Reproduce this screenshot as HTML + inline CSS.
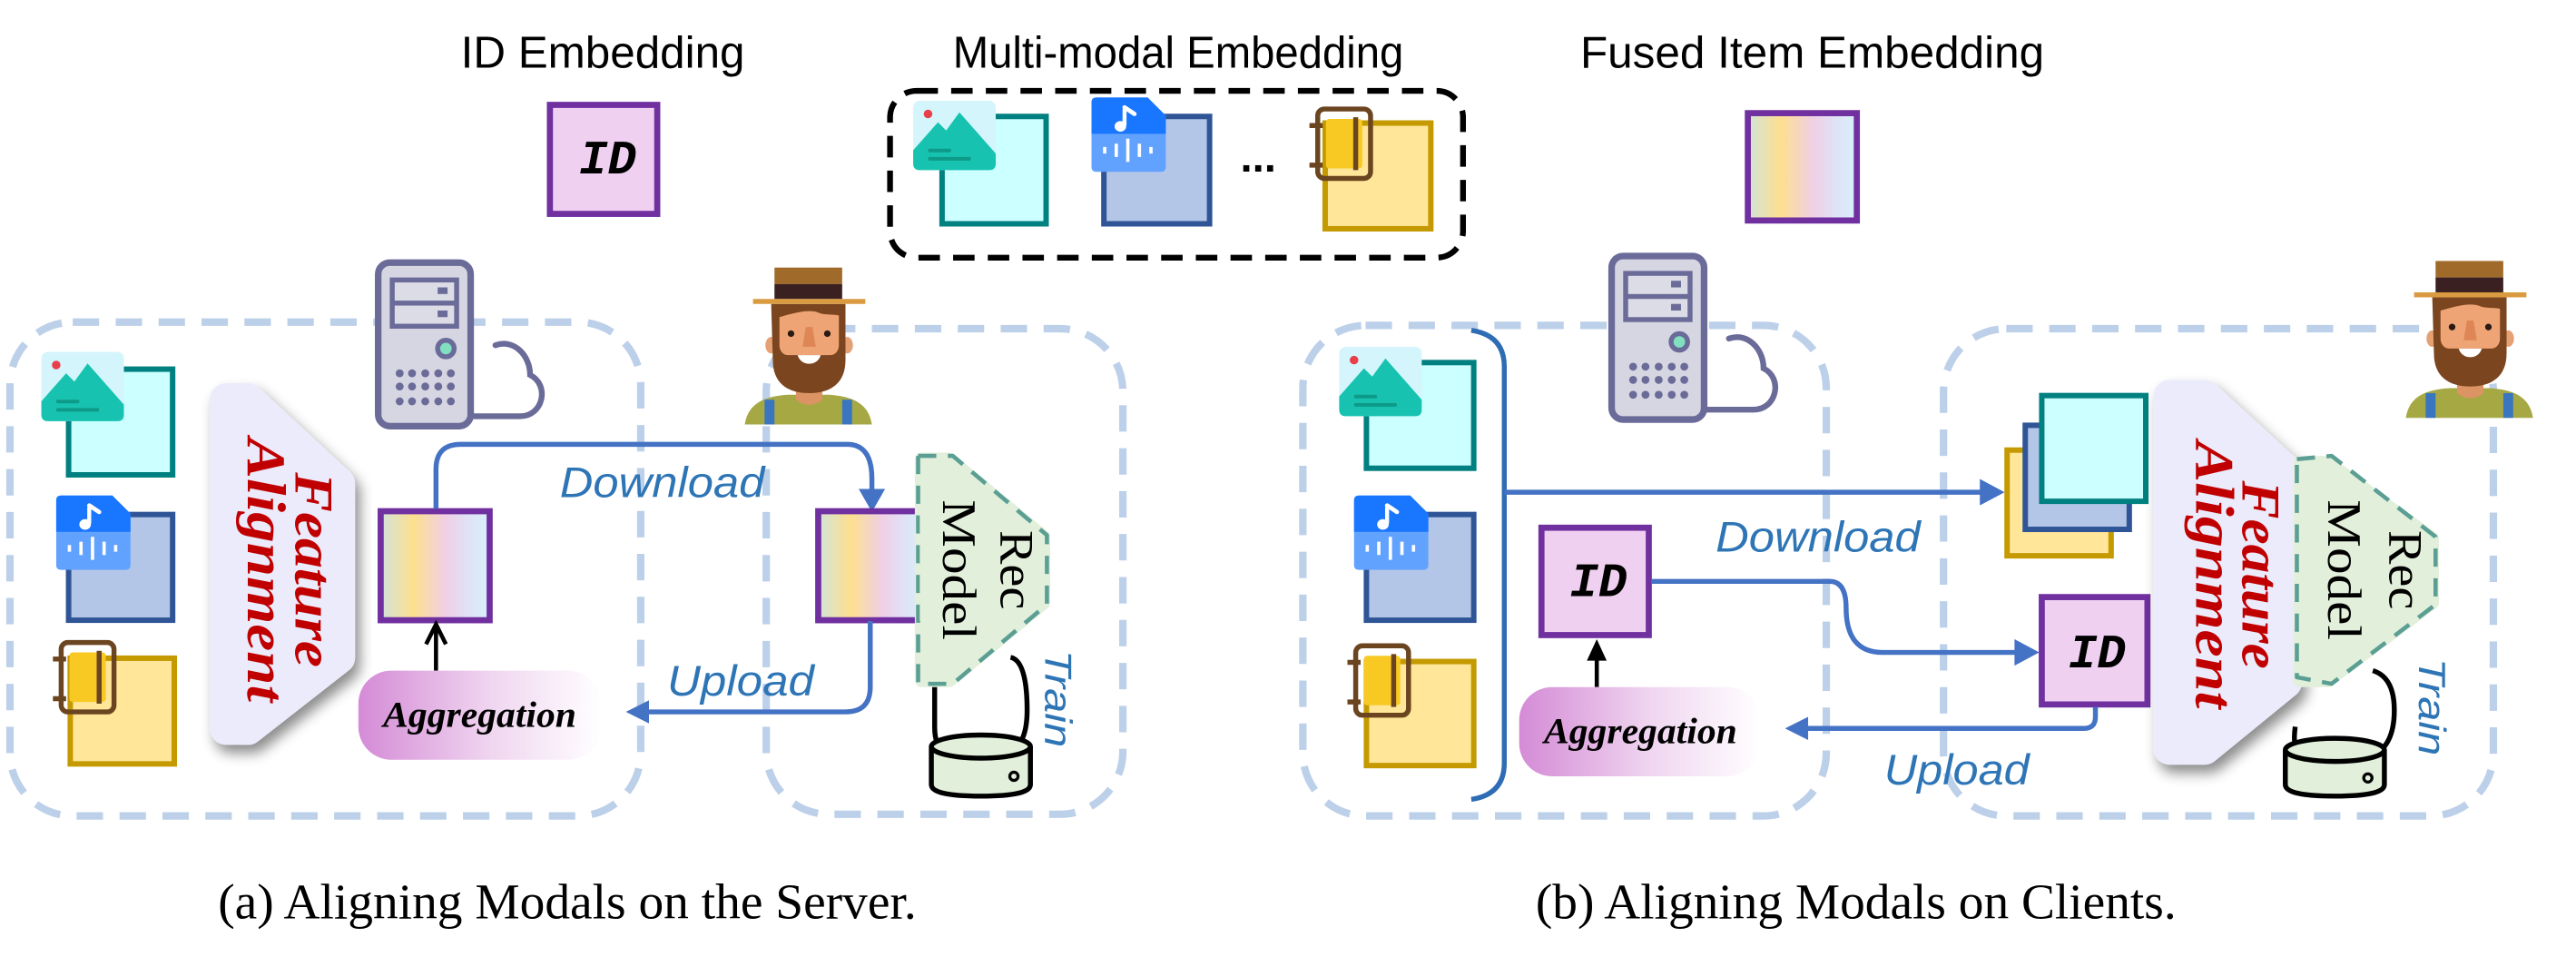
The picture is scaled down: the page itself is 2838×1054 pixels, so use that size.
<!DOCTYPE html>
<html><head><meta charset="utf-8"><style>html,body{margin:0;padding:0;background:#fff}svg{display:block}</style></head><body>
<svg width="2838" height="1054" viewBox="0 0 1560 579.4" xmlns="http://www.w3.org/2000/svg">
<defs>
<linearGradient id="fg" x1="0" x2="1" y1="0" y2="0">
<stop offset="0" stop-color="#d2e2dc"/><stop offset="0.3" stop-color="#fde08e"/><stop offset="0.6" stop-color="#f0cfe6"/><stop offset="0.8" stop-color="#e0e2f6"/><stop offset="1" stop-color="#d6f0fa"/></linearGradient>
<linearGradient id="ag" x1="0" x2="1" y1="0" y2="0">
<stop offset="0" stop-color="#d48bd6"/><stop offset="0.55" stop-color="#f0d6f0"/><stop offset="1" stop-color="#ffffff"/></linearGradient>
<filter id="sh" x="-30%" y="-20%" width="160%" height="150%"><feDropShadow dx="3" dy="5" stdDeviation="4" flood-color="#000" flood-opacity="0.45"/></filter>
<g id="server">
<rect x="2" y="2" width="56" height="99" rx="7" fill="#d6d6e2" stroke="#6b6b99" stroke-width="4"/>
<rect x="9" y="11" width="42" height="31" fill="#6b6b99"/>
<rect x="12" y="14" width="36" height="11" fill="#dcdce6"/><rect x="12" y="28" width="36" height="11" fill="#dcdce6"/>
<rect x="38" y="17" width="6" height="4" fill="#6b6b99"/><rect x="38" y="31" width="6" height="4" fill="#6b6b99"/>
<circle cx="43" cy="54" r="5" fill="#80e0c0" stroke="#6b6b99" stroke-width="3"/>
<g fill="#6b6b99"><circle cx="15" cy="69" r="2.4"/><circle cx="22.5" cy="69" r="2.4"/><circle cx="30.5" cy="69" r="2.4"/><circle cx="38.4" cy="69" r="2.4"/><circle cx="46" cy="69" r="2.4"/>
<circle cx="15" cy="77" r="2.4"/><circle cx="22.5" cy="77" r="2.4"/><circle cx="30.5" cy="77" r="2.4"/><circle cx="38.4" cy="77" r="2.4"/><circle cx="46" cy="77" r="2.4"/>
<circle cx="15" cy="86" r="2.4"/><circle cx="22.5" cy="86" r="2.4"/><circle cx="30.5" cy="86" r="2.4"/><circle cx="38.4" cy="86" r="2.4"/><circle cx="46" cy="86" r="2.4"/></g>
<path d="M58,95 H88 C102,95 106,76 94,70 C94,58 84,48 73,52" fill="none" stroke="#6b6b99" stroke-width="3.5" stroke-linecap="round"/>
</g>
<g id="farmer">
<path d="M0,95 C2,82 12,78 26,77 L51,77 C65,78 75,82 77,95 Z" fill="#a6a843"/>
<rect x="12" y="80" width="6" height="15" fill="#3a76c0"/><rect x="59" y="80" width="6" height="15" fill="#3a76c0"/>
<path d="M31,68 H47 V80 C42,84 36,84 31,80 Z" fill="#dc9464"/>
<ellipse cx="16" cy="47" rx="3.5" ry="5" fill="#e5a073"/><ellipse cx="62" cy="47" rx="3.5" ry="5" fill="#e5a073"/>
<path d="M16,22 H61 V56 C61,70 52,76 39,76 C26,76 17,70 17,56 Z" fill="#7a451f"/>
<path d="M21,30 C28,28 38,25 44,27 C48,29 54,28 57,29 V47 C57,50 55,53 52,53 H26 C23,53 21,50 21,47 Z" fill="#eea474"/>
<path d="M37,36 L35,48 H43 L41,36 Z" fill="#df8656"/>
<path d="M32,53 C34,60 44,60 46,53 Z" fill="#fff"/>
<circle cx="28" cy="40" r="2" fill="#2a1a14"/><circle cx="50" cy="40" r="2" fill="#2a1a14"/>
<rect x="18" y="0" width="41" height="10" fill="#a06a2a"/><rect x="18" y="10" width="41" height="9" fill="#3a2020"/>
<rect x="5" y="19" width="68" height="3" fill="#d99a40"/>
</g>
<g id="imgicon">
<rect x="0" y="0" width="50" height="42" rx="4" fill="#d4f5fb"/>
<path d="M0,30 L15,13 L20,18 L28,7 L50,32 V38 Q50,42 46,42 H4 Q0,42 0,38 Z" fill="#17c3b0"/>
<circle cx="9" cy="8" r="2.6" fill="#e8404a"/>
<rect x="9" y="29" width="14" height="2.2" rx="1" fill="#0e9a88"/><rect x="9" y="34" width="26" height="2.2" rx="1" fill="#0e9a88"/>
</g>
<g id="audicon">
<path d="M3,0 H34 L45,11 V42 Q45,45 42,45 H3 Q0,45 0,42 V3 Q0,0 3,0 Z" fill="#62a2ff"/>
<path d="M3,0 H34 L45,11 V22 H0 V3 Q0,0 3,0 Z" fill="#1976ff"/>
<path d="M20,7 V17" stroke="#fff" stroke-width="2.4"/><path d="M20,6 L26,10" stroke="#fff" stroke-width="2.6" stroke-linecap="round"/><ellipse cx="17.5" cy="17.5" rx="3.5" ry="3.2" fill="#fff"/>
<g stroke="#fff" stroke-width="2"><path d="M8,30v4M15,28v8M22,25v14M29,28v8M36,30v4"/></g>
</g>
<g id="docicon">
<rect x="10" y="8" width="22" height="30" rx="2" fill="#f9c923"/>
<rect x="5" y="2" width="32" height="42" rx="4" fill="none" stroke="#6b4420" stroke-width="3"/>
<path d="M28,7 V39" stroke="#6b4420" stroke-width="3"/>
<path d="M0,12 H8 M0,36 H8" stroke="#6b4420" stroke-width="3"/>
</g>
</defs>

<g font-family="Liberation Sans, sans-serif" font-size="27" fill="#000">
<text x="279" y="41" textLength="172" lengthAdjust="spacingAndGlyphs">ID Embedding</text>
<text x="577" y="41" textLength="273" lengthAdjust="spacingAndGlyphs">Multi-modal Embedding</text>
<text x="957" y="41" textLength="281" lengthAdjust="spacingAndGlyphs">Fused Item Embedding</text>
</g>

<!-- top ID box -->
<rect x="333" y="63.5" width="65" height="66" fill="#f0d0f0" stroke="#7030a0" stroke-width="3.7"/>
<text x="368" y="105" text-anchor="middle" font-family="Liberation Mono, monospace" font-weight="bold" font-style="italic" font-size="29">ID</text>
<!-- MM dashed -->
<rect x="539" y="55" width="347" height="101" rx="16" fill="none" stroke="#000" stroke-width="3.5" stroke-dasharray="13 8"/>
<rect x="570.5" y="70.5" width="63" height="65" fill="#ccffff" stroke="#008080" stroke-width="3.3"/>
<use href="#imgicon" x="553" y="61"/>
<rect x="668.5" y="70.5" width="64" height="65" fill="#b4c6e7" stroke="#2f5597" stroke-width="3.3"/>
<use href="#audicon" x="661" y="59"/>
<text x="762" y="104" font-family="Liberation Sans, sans-serif" font-weight="bold" font-size="26" text-anchor="middle">...</text>
<rect x="802.5" y="74.5" width="64" height="64" fill="#ffe699" stroke="#c49a00" stroke-width="3.3"/>
<use href="#docicon" x="793" y="64"/>
<!-- fused -->
<rect x="1058.5" y="68.5" width="66" height="65" fill="url(#fg)" stroke="#7030a0" stroke-width="3.7"/>

<!-- ========== (a) ========== -->
<rect x="6" y="195" width="382" height="299" rx="38" fill="none" stroke="#bdd0e9" stroke-width="4.5" stroke-dasharray="16 10"/>
<rect x="464" y="199" width="216" height="294" rx="38" fill="none" stroke="#bdd0e9" stroke-width="4.5" stroke-dasharray="16 10"/>
<use href="#server" x="227" y="157"/>
<use href="#farmer" x="451" y="162"/>

<rect x="41.5" y="223.5" width="63" height="64" fill="#ccffff" stroke="#008080" stroke-width="3.3"/>
<use href="#imgicon" x="25" y="213"/>
<rect x="41.5" y="311.5" width="63" height="64" fill="#b4c6e7" stroke="#2f5597" stroke-width="3.3"/>
<use href="#audicon" x="34" y="300"/>
<rect x="42.5" y="398.5" width="63" height="64" fill="#ffe699" stroke="#c49a00" stroke-width="3.3"/>
<use href="#docicon" x="32" y="387"/>

<polygon points="137,242 150,242 205,293 205,398 150,441 137,441" fill="#ebebfb" stroke="#ebebfb" stroke-width="20" stroke-linejoin="round" filter="url(#sh)"/>
<g transform="translate(179,345) rotate(90)" font-family="Liberation Serif, serif" font-weight="bold" font-style="italic" fill="#c00000" font-size="33" text-anchor="middle">
<text x="0" y="0" textLength="118" lengthAdjust="spacingAndGlyphs">Feature</text>
<text x="0" y="29" textLength="160" lengthAdjust="spacingAndGlyphs">Alignment</text>
</g>

<rect x="230.5" y="309.5" width="66" height="66" fill="url(#fg)" stroke="#7030a0" stroke-width="3.7"/>
<path d="M264,406 V380" stroke="#000" stroke-width="2.5"/>
<path d="M258,390 L264,378 L270,390" fill="none" stroke="#000" stroke-width="2.5"/>
<rect x="217" y="406" width="147" height="54" rx="20" fill="url(#ag)"/>
<text x="232" y="440" font-family="Liberation Serif, serif" font-weight="bold" font-style="italic" font-size="22" textLength="117" lengthAdjust="spacingAndGlyphs">Aggregation</text>

<path d="M264,308 V284 Q264,269 279,269 H513 Q528,269 528,290 V298" fill="none" stroke="#4472c4" stroke-width="3"/>
<polygon points="520,296 536,296 528,310" fill="#4472c4"/>
<text x="339" y="301" font-family="Liberation Sans, sans-serif" font-style="italic" font-size="26" fill="#2e75b6" textLength="124" lengthAdjust="spacingAndGlyphs">Download</text>

<rect x="495.5" y="309.5" width="65" height="66" fill="url(#fg)" stroke="#7030a0" stroke-width="3.7"/>
<polygon points="558,278 575,278 632,325 632,365 575,412 558,412" fill="#e2efda" stroke="#e2efda" stroke-width="8" stroke-linejoin="round"/>
<polygon points="556,276 577,276 634,324 634,366 577,414 556,414" fill="none" stroke="#5a9e94" stroke-width="2.5" stroke-dasharray="11 7" stroke-linejoin="round"/>
<rect x="557" y="310" width="4" height="66" fill="#e2efda"/>
<path d="M527,376 V416 Q527,431 512,431 H392" fill="none" stroke="#4472c4" stroke-width="3"/>
<polygon points="393,424 393,438 379,431" fill="#4472c4"/>
<text x="404" y="421" font-family="Liberation Sans, sans-serif" font-style="italic" font-size="26" fill="#2e75b6" textLength="89" lengthAdjust="spacingAndGlyphs">Upload</text>
<g transform="translate(606,345) rotate(90)" font-family="Liberation Serif, serif" font-size="29" text-anchor="middle">
<text x="0" y="0" textLength="48" lengthAdjust="spacingAndGlyphs">Rec</text>
<text x="0" y="35" textLength="85" lengthAdjust="spacingAndGlyphs">Model</text>
</g>
<path d="M566,416 V440 Q566,452 572,455 M612,455 Q622,450 622,430 Q622,400 612,398" fill="none" stroke="#000" stroke-width="3"/>
<path d="M564,452 V475 Q564,482 594,482 Q624,482 624,475 V452" fill="#e2efda" stroke="#000" stroke-width="3"/>
<ellipse cx="594" cy="452" rx="30" ry="7" fill="#e2efda" stroke="#000" stroke-width="3"/>
<circle cx="614" cy="470" r="2.5" fill="none" stroke="#000" stroke-width="1.8"/>
<text transform="translate(633,423) rotate(90)" text-anchor="middle" font-family="Liberation Sans, sans-serif" font-style="italic" font-size="23" fill="#2e75b6" textLength="59" lengthAdjust="spacingAndGlyphs">Train</text>

<text x="132" y="556" font-family="Liberation Serif, serif" font-size="30" textLength="423" lengthAdjust="spacingAndGlyphs">(a) Aligning Modals on the Server.</text>

<!-- ========== (b) ========== -->
<rect x="789" y="197" width="317" height="297" rx="38" fill="none" stroke="#bdd0e9" stroke-width="4.5" stroke-dasharray="16 10"/>
<rect x="1177" y="199" width="333" height="295" rx="38" fill="none" stroke="#bdd0e9" stroke-width="4.5" stroke-dasharray="16 10"/>
<use href="#server" x="974" y="153"/>
<use href="#farmer" x="1457" y="158"/>

<path d="M891,200 Q911,203 911,222 V462 Q911,481 891,484" fill="none" stroke="#2e6db4" stroke-width="3"/>
<rect x="827.5" y="219.5" width="65" height="64" fill="#ccffff" stroke="#008080" stroke-width="3.3"/>
<use href="#imgicon" x="811" y="210"/>
<rect x="827.5" y="311.5" width="65" height="64" fill="#b4c6e7" stroke="#2f5597" stroke-width="3.3"/>
<use href="#audicon" x="820" y="300"/>
<rect x="827.5" y="400.5" width="65" height="63" fill="#ffe699" stroke="#c49a00" stroke-width="3.3"/>
<use href="#docicon" x="816" y="389"/>

<path d="M911,298 H1200" stroke="#4472c4" stroke-width="3"/>
<polygon points="1199,290 1199,306 1214,298" fill="#4472c4"/>
<text x="1039" y="334" font-family="Liberation Sans, sans-serif" font-style="italic" font-size="26" fill="#2e75b6" textLength="124" lengthAdjust="spacingAndGlyphs">Download</text>

<rect x="933.5" y="319.5" width="65" height="65" fill="#f0d0f0" stroke="#7030a0" stroke-width="3.7"/>
<text x="968" y="361" text-anchor="middle" font-family="Liberation Mono, monospace" font-weight="bold" font-style="italic" font-size="29">ID</text>
<path d="M967,416 V398" stroke="#000" stroke-width="2.5"/>
<polygon points="961,400 973,400 967,387" fill="#000"/>
<rect x="920" y="416" width="146" height="54" rx="20" fill="url(#ag)"/>
<text x="935" y="450" font-family="Liberation Serif, serif" font-weight="bold" font-style="italic" font-size="22" textLength="117" lengthAdjust="spacingAndGlyphs">Aggregation</text>

<path d="M1000,352 H1108 Q1118,352 1118,368 Q1118,395 1140,395 H1222" fill="none" stroke="#4472c4" stroke-width="3"/>
<polygon points="1220,387 1220,403 1235,395" fill="#4472c4"/>
<rect x="1236.5" y="361.5" width="64" height="65" fill="#f0d0f0" stroke="#7030a0" stroke-width="3.7"/>
<text x="1270" y="404" text-anchor="middle" font-family="Liberation Mono, monospace" font-weight="bold" font-style="italic" font-size="29">ID</text>
<path d="M1269,428 V434 Q1269,441 1262,441 H1094" fill="none" stroke="#4472c4" stroke-width="3"/>
<polygon points="1095,434 1095,448 1081,441" fill="#4472c4"/>
<text x="1141" y="475" font-family="Liberation Sans, sans-serif" font-style="italic" font-size="26" fill="#2e75b6" textLength="88" lengthAdjust="spacingAndGlyphs">Upload</text>

<rect x="1215.5" y="272.5" width="63" height="64" fill="#ffe699" stroke="#c49a00" stroke-width="3.3"/>
<rect x="1226.5" y="257.5" width="63" height="63" fill="#b4c6e7" stroke="#2f5597" stroke-width="3.3"/>
<rect x="1236.5" y="239.5" width="63" height="64" fill="#ccffff" stroke="#008080" stroke-width="3.3"/>

<polygon points="1314,240 1335,240 1384,285 1384,413 1335,453 1314,453" fill="#ebebfb" stroke="#ebebfb" stroke-width="20" stroke-linejoin="round" filter="url(#sh)"/>
<g transform="translate(1358,348) rotate(90)" font-family="Liberation Serif, serif" font-weight="bold" font-style="italic" fill="#c00000" font-size="33" text-anchor="middle">
<text x="0" y="0" textLength="114" lengthAdjust="spacingAndGlyphs">Feature</text>
<text x="0" y="28" textLength="162" lengthAdjust="spacingAndGlyphs">Alignment</text>
</g>
<polygon points="1393,280 1410,280 1473,326 1473,365 1410,412 1393,412" fill="#e2efda" stroke="#e2efda" stroke-width="8" stroke-linejoin="round"/>
<polygon points="1391,278 1412,276 1475,325 1475,366 1412,414 1391,410" fill="none" stroke="#5a9e94" stroke-width="2.5" stroke-dasharray="11 7" stroke-linejoin="round"/>
<g transform="translate(1447,345) rotate(90)" font-family="Liberation Serif, serif" font-size="29" text-anchor="middle">
<text x="0" y="0" textLength="48" lengthAdjust="spacingAndGlyphs">Rec</text>
<text x="0" y="37" textLength="85" lengthAdjust="spacingAndGlyphs">Model</text>
</g>
<path d="M1390,440 Q1388,455 1394,458 M1436,458 Q1450,452 1450,430 Q1450,410 1437,406" fill="none" stroke="#000" stroke-width="3"/>
<path d="M1384,454 V475 Q1384,482 1414,482 Q1444,482 1444,475 V454" fill="#e2efda" stroke="#000" stroke-width="3"/>
<ellipse cx="1414" cy="454" rx="30" ry="7" fill="#e2efda" stroke="#000" stroke-width="3"/>
<circle cx="1434" cy="471" r="2.5" fill="none" stroke="#000" stroke-width="1.8"/>
<text transform="translate(1465,428) rotate(90)" text-anchor="middle" font-family="Liberation Sans, sans-serif" font-style="italic" font-size="23" fill="#2e75b6" textLength="59" lengthAdjust="spacingAndGlyphs">Train</text>

<text x="930" y="556" font-family="Liberation Serif, serif" font-size="30" textLength="388" lengthAdjust="spacingAndGlyphs">(b) Aligning Modals on Clients.</text>
</svg>
</body></html>
